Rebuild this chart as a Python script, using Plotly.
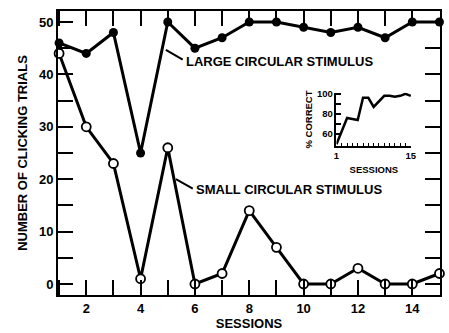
import plotly.graph_objects as go

sessions = list(range(1, 16))
large_stimulus = [46, 44, 48, 25, 50, 45, 47, 50, 50, 49, 48, 49, 47, 50, 50]
small_stimulus = [44, 30, 23, 1, 26, 0, 2, 14, 7, 0, 0, 3, 0, 0, 2]
inset_sessions = list(range(1, 16))
inset_pct_correct = [50, 63, 76, 75, 74, 96, 96, 87, 93, 98, 98, 97, 98, 100, 98]

x_tickvals = sessions
x_ticktext = [str(s) if s % 2 == 0 else "" for s in sessions]
y_tickvals = list(range(0, 51, 5))
y_ticktext = [str(v) if v % 10 == 0 else "" for v in y_tickvals]
inset_y_tickvals = [60, 70, 80, 90, 100]
inset_y_ticktext = ["60", "", "80", "", "100"]
inset_x_ticktext = ["1"] + [""] * 13 + ["15"]

FONT = "Liberation Sans"
fig = go.Figure()

fig.add_trace(go.Scatter(
    x=sessions, y=large_stimulus, mode="lines+markers",
    line=dict(color="black", width=3),
    marker=dict(symbol="circle", size=9, color="black"),
    showlegend=False, cliponaxis=False))
fig.add_trace(go.Scatter(
    x=sessions, y=small_stimulus, mode="lines+markers",
    line=dict(color="black", width=3),
    marker=dict(symbol="circle", size=9, color="white",
                line=dict(color="black", width=1.8)),
    showlegend=False, cliponaxis=False))
fig.add_trace(go.Scatter(
    x=inset_sessions, y=inset_pct_correct, mode="lines",
    line=dict(color="black", width=2.5),
    xaxis="x2", yaxis="y2", showlegend=False))

# leader lines
fig.add_shape(type="line", x0=4.93, y0=44.7, x1=5.55, y1=42.8,
              line=dict(color="black", width=2), xref="x", yref="y")
fig.add_shape(type="line", x0=5.30, y0=20.0, x1=5.92, y1=18.2,
              line=dict(color="black", width=2), xref="x", yref="y")
ann_font = dict(family=FONT, size=13, color="black", weight="bold")
fig.add_annotation(x=5.59, y=42.4, xref="x", yref="y", text="LARGE CIRCULAR STIMULUS",
                   showarrow=False, xanchor="left", yanchor="middle", font=ann_font)
fig.add_annotation(x=5.97, y=18.0, xref="x", yref="y", text="SMALL CIRCULAR STIMULUS",
                   showarrow=False, xanchor="left", yanchor="middle", font=ann_font)

axis_font = dict(family=FONT, size=13, color="black", weight="bold")
title_font = dict(family=FONT, size=13, color="black", weight="bold")
inset_font = dict(family=FONT, size=9.5, color="black", weight="bold")
fig.update_layout(
    width=449, height=333,
    margin=dict(l=58, r=4, t=11, b=36),
    paper_bgcolor="white", plot_bgcolor="white",
    xaxis=dict(range=[0.96, 15.02], tickvals=x_tickvals, ticktext=x_ticktext,
               ticks="inside", ticklen=15, tickwidth=1.5, tickcolor="black",
               showline=True, linecolor="black", linewidth=2, mirror="ticks",
               showgrid=False, zeroline=False, tickfont=axis_font,
               title=dict(text="SESSIONS", font=title_font, standoff=4)),
    yaxis=dict(range=[-2.1, 52.1], tickvals=y_tickvals, ticktext=y_ticktext,
               ticks="inside", ticklen=15, tickwidth=1.5, tickcolor="black",
               showline=True, linecolor="black", linewidth=2, mirror="ticks",
               showgrid=False, zeroline=False, tickfont=axis_font,
               title=dict(text="NUMBER OF CLICKING TRIALS", font=title_font, standoff=8)),
    xaxis2=dict(domain=[0.729, 0.925], anchor="y2", range=[1, 15.1],
                tickvals=inset_sessions, ticktext=inset_x_ticktext,
                ticks="inside", ticklen=3, tickwidth=1, tickcolor="black",
                showline=True, linecolor="black", linewidth=1.5,
                showgrid=False, zeroline=False, tickfont=inset_font,
                title=dict(text="SESSIONS", standoff=6, font=inset_font)),
    yaxis2=dict(domain=[0.524, 0.712], anchor="x2", range=[48, 101],
                tickvals=inset_y_tickvals, ticktext=inset_y_ticktext,
                ticks="inside", ticklen=5, tickwidth=1.5, tickcolor="black",
                showline=True, linecolor="black", linewidth=1.5,
                showgrid=False, zeroline=False, tickfont=inset_font,
                title=dict(text="% CORRECT", standoff=3, font=inset_font)),
)

fig.write_html("out.html")
